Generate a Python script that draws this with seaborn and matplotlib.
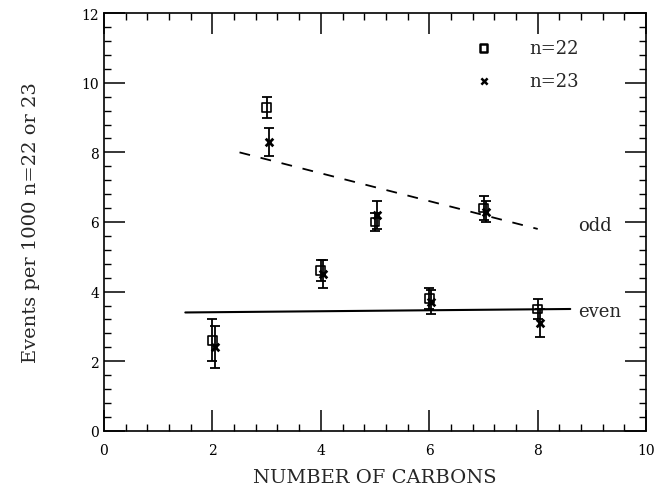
import numpy as np
import pandas as pd
import matplotlib
matplotlib.use("Agg")
import matplotlib.pyplot as plt
import seaborn as sns
from matplotlib.ticker import MultipleLocator

# Data
carbons = [2, 3, 4, 5, 6, 7, 8]
n22 = [2.6, 9.3, 4.6, 6.0, 3.8, 6.4, 3.5]
n22_err = [0.6, 0.3, 0.3, 0.25, 0.3, 0.35, 0.3]
n23 = [2.4, 8.3, 4.5, 6.2, 3.7, 6.3, 3.1]
n23_err = [0.6, 0.4, 0.4, 0.4, 0.35, 0.3, 0.4]

odd_x = [2.5, 8.0]
odd_y = [8.0, 5.8]
even_x = [1.5, 8.6]
even_y = [3.4, 3.5]

df22 = pd.DataFrame({'carbons': carbons, 'value': n22, 'err': n22_err})
df23 = pd.DataFrame({'carbons': carbons, 'value': n23, 'err': n23_err})
df23['xpos'] = df23['carbons'] + 0.04
df22['xpos'] = df22['carbons']

sns.set_style("ticks")
plt.rcParams['font.family'] = ['DejaVu Serif']

fig = plt.figure(figsize=(6.54, 4.89), dpi=100)
ax = fig.add_axes([0.159, 0.117, 0.829, 0.854])

# error bars
for d in (df22, df23):
    ax.errorbar(d['xpos'], d['value'], yerr=d['err'], fmt='none',
                ecolor='black', elinewidth=1.3, capsize=3.5, capthick=1.3, zorder=2)

# points
sns.scatterplot(data=df22, x='xpos', y='value', marker='s', s=40,
                facecolor='none', edgecolor='black', linewidth=1.2, ax=ax, zorder=3)
sns.scatterplot(data=df23, x='xpos', y='value', marker='x', s=30,
                color='black', linewidth=2, ax=ax, zorder=3)

# fit lines
ax.plot(odd_x, odd_y, color='black', lw=1.3, ls=(0, (6, 6)))
ax.plot(even_x, even_y, color='black', lw=1.5)
ax.text(8.75, 5.9, 'odd', fontsize=13, va='center', ha='left')
ax.text(8.75, 3.45, 'even', fontsize=13, va='center', ha='left')

# legend drawn as text
ax.scatter([7.0], [11.0], marker='s', s=30, facecolor='none', edgecolor='black', linewidth=1.8)
ax.scatter([7.0], [10.05], marker='x', s=20, color='black', linewidth=1.8)
ax.text(7.85, 11.0, 'n=22', fontsize=13, va='center', ha='left')
ax.text(7.85, 10.05, 'n=23', fontsize=13, va='center', ha='left')

ax.set_xlim(0, 10)
ax.set_ylim(0, 12)
ax.xaxis.set_major_locator(MultipleLocator(2))
ax.xaxis.set_minor_locator(MultipleLocator(0.4))
ax.yaxis.set_major_locator(MultipleLocator(2))
ax.yaxis.set_minor_locator(MultipleLocator(0.4))
ax.tick_params(which='both', direction='in', top=True, right=True, colors='black', labelsize=10)
ax.tick_params(which='major', length=15, width=1.1)
ax.tick_params(which='minor', length=5, width=1)
ax.tick_params(axis='x', pad=9)
for sp in ax.spines.values():
    sp.set_linewidth(1.2)
    sp.set_color('black')

ax.set_xlabel('NUMBER OF CARBONS', fontsize=14, labelpad=8)
ax.set_ylabel('Events per 1000 n=22 or 23', fontsize=14, labelpad=30)

fig.savefig('out.png', dpi=100)
